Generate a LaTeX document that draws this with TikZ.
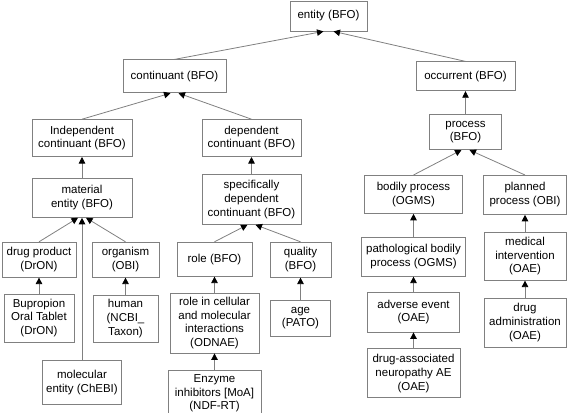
\documentclass[tikz,border=0pt]{standalone}
\usepackage{fontspec}
\setmainfont{Liberation Sans}
\usetikzlibrary{arrows.meta}
\usetikzlibrary{positioning}

\begin{document}
\begin{tikzpicture}
  [
    x = 1pt, y = -1pt,
    class/.style = {draw = gray, line width = 0.8pt, align = center, inner sep = 0pt,
                    font = \fontsize{11.5}{13.8}\selectfont},
    arrow/.style = {draw = gray, line width = 0.8pt,
                    -{Triangle[length = 6.5pt, width = 6.5pt, color = black]}},
  ]
  \useasboundingbox (0,0) rectangle (567,412);

  \node[class, minimum width = 77pt, minimum height = 30pt] at (328.5,16) (entity) {entity (BFO)};

  \node[class, minimum width = 103pt, minimum height = 33pt]
    [below = 28pt of entity, xshift = -154pt] (continuant) {continuant (BFO)};
  \node[class, minimum width = 99pt, minimum height = 29pt]
    [below = 30pt of entity, xshift = 137pt] (occurrent) {occurrent (BFO)};

  \node[class, minimum width = 100pt, minimum height = 37pt]
    [below = 26pt of continuant, xshift = -92.5pt] (indep_cont) {Independent\\continuant (BFO)};
  \node[class, minimum width = 99pt, minimum height = 37pt]
    [below = 26pt of continuant, xshift = 77pt] (dep_cont) {dependent\\continuant (BFO)};
  \node[class, minimum width = 72pt, minimum height = 35pt]
    [below = 23pt of occurrent] (process) {process\\(BFO)};

  \node[class, minimum width = 100pt, minimum height = 39pt]
    [below = 21pt of indep_cont] (material) {material\\entity (BFO)};
  \node[class, minimum width = 99pt, minimum height = 50pt]
    [below = 17pt of dep_cont] (spec_dep) {specifically\\dependent\\continuant (BFO)};
  \node[class, minimum width = 98pt, minimum height = 38pt]
    [below = 25pt of process, xshift = -52pt] (bodily) {bodily process\\(OGMS)};
  \node[class, minimum width = 83pt, minimum height = 39pt]
    [below = 25pt of process, xshift = 59.5pt] (planned) {planned\\process (OBI)};

  \node[class, minimum width = 74pt, minimum height = 35pt]
    [below = 24pt of material, xshift = -43pt] (drug_prod) {drug product\\(DrON)};
  \node[class, minimum width = 67pt, minimum height = 35pt]
    [below = 24pt of material, xshift = 43.5pt] (organism) {organism\\(OBI)};
  \node[class, minimum width = 79pt, minimum height = 44pt]
    [below = 142pt of material] (molecular) {molecular\\entity (ChEBI)};
  \node[class, minimum width = 75pt, minimum height = 34pt]
    [below = 17pt of spec_dep, xshift = -37pt] (role) {role (BFO)};
  \node[class, minimum width = 61pt, minimum height = 35pt]
    [below = 17pt of spec_dep, xshift = 49pt] (quality) {quality\\(BFO)};
  \node[class, minimum width = 104pt, minimum height = 39pt]
    [below = 23pt of bodily] (patho) {pathological bodily\\process (OGMS)};
  \node[class, minimum width = 82pt, minimum height = 48pt]
    [below = 17pt of planned] (med_int) {medical\\intervention\\(OAE)};

  \node[class, minimum width = 70pt, minimum height = 48pt]
    [below = 16pt of drug_prod] (bupropion) {Bupropion\\Oral Tablet\\(DrON)};
  \node[class, minimum width = 65pt, minimum height = 47pt]
    [below = 17pt of organism] (human) {human\\(NCBI\_\\Taxon)};
  \node[class, minimum width = 89pt, minimum height = 60pt]
    [below = 16pt of role] (role_cell) {role in cellular\\and molecular\\interactions\\(ODNAE)};
  \node[class, minimum width = 60pt, minimum height = 36pt]
    [below = 22pt of quality] (age) {age\\(PATO)};
  \node[class, minimum width = 92pt, minimum height = 40pt]
    [below = 15pt of patho] (adverse) {adverse event\\(OAE)};
  \node[class, minimum width = 82pt, minimum height = 49pt]
    [below = 17pt of med_int] (drug_adm) {drug\\administration\\(OAE)};

  \node[class, minimum width = 93pt, minimum height = 45pt]
    [below = 17pt of role_cell] (enzyme) {Enzyme\\inhibitors [MoA]\\(NDF-RT)};
  \node[class, minimum width = 93pt, minimum height = 49pt]
    [below = 16pt of adverse] (neuro_ae) {drug-associated\\neuropathy AE\\(OAE)};

  % is_a links
  \draw[arrow] (continuant.north) -- ([xshift = -5pt]entity.south);
  \draw[arrow] (occurrent.north) -- ([xshift = 5pt]entity.south);
  \draw[arrow] (indep_cont.north) -- ([xshift = -4pt]continuant.south);
  \draw[arrow] (dep_cont.north) -- ([xshift = 4pt]continuant.south);
  \draw[arrow] (process) -- (occurrent);
  \draw[arrow] (material) -- (indep_cont);
  \draw[arrow] (spec_dep) -- (dep_cont);
  \draw[arrow] (bodily.north) -- ([xshift = -4pt]process.south);
  \draw[arrow] (planned.north) -- ([xshift = 4pt]process.south);
  \draw[arrow] (drug_prod.north) -- ([xshift = -4pt]material.south);
  \draw[arrow] (molecular.north) -- (material.south);
  \draw[arrow] (organism.north) -- ([xshift = 4pt]material.south);
  \draw[arrow] (role.north) -- ([xshift = -4pt]spec_dep.south);
  \draw[arrow] (quality.north) -- ([xshift = 4pt]spec_dep.south);
  \draw[arrow] (patho) -- (bodily);
  \draw[arrow] (adverse) -- (patho);
  \draw[arrow] (neuro_ae) -- (adverse);
  \draw[arrow] (med_int) -- (planned);
  \draw[arrow] (drug_adm) -- (med_int);
  \draw[arrow] (bupropion) -- (drug_prod);
  \draw[arrow] (human) -- (organism);
  \draw[arrow] (role_cell) -- (role);
  \draw[arrow] (enzyme) -- (role_cell);
  \draw[arrow] (age) -- (quality);
\end{tikzpicture}
\end{document}
